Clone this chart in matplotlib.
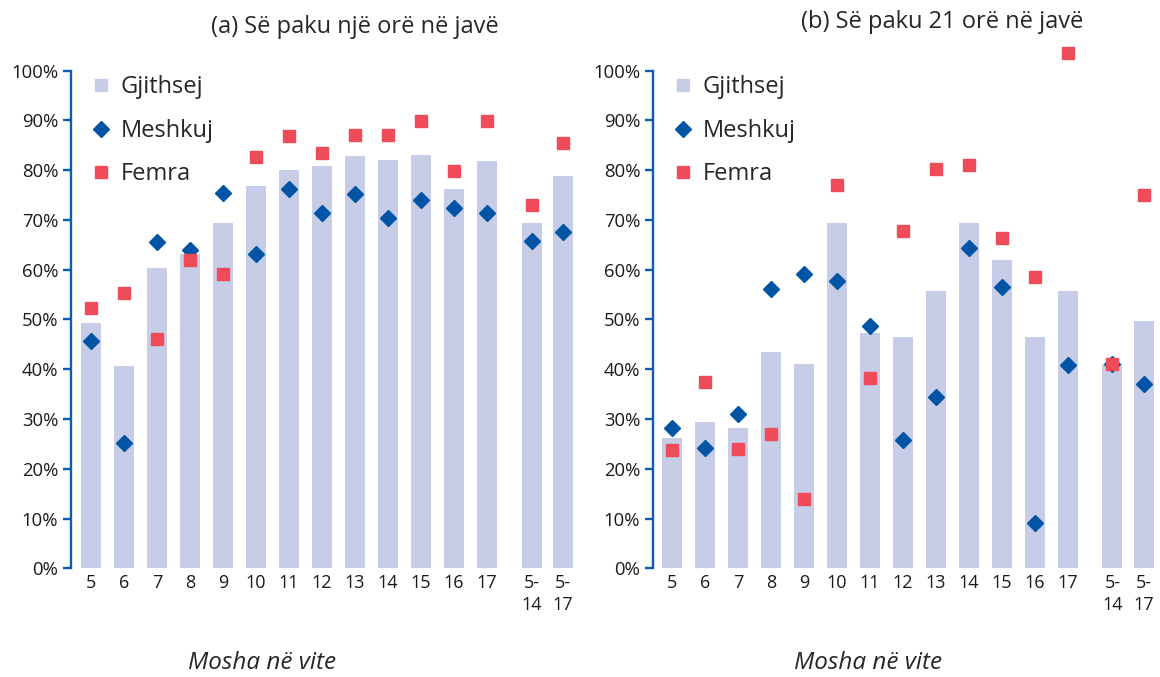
import matplotlib
matplotlib.use("Agg")
import matplotlib.pyplot as plt
from matplotlib.lines import Line2D
import numpy as np

plt.rcParams['font.family'] = ['Open Sans', 'DejaVu Sans']

categories = ["5", "6", "7", "8", "9", "10", "11", "12", "13", "14", "15", "16", "17", "5-\n14", "5-\n17"]
positions = [0, 1, 2, 3, 4, 5, 6, 7, 8, 9, 10, 11, 12, 13.35, 14.3]

# Panel (a): at least one hour per week
a_total = [49.3, 40.7, 60.3, 63.2, 69.4, 76.8, 80.0, 80.8, 82.9, 82.1, 83.1, 76.2, 81.8, 69.4, 78.8]
a_male = [45.6, 25.2, 65.5, 63.9, 75.3, 63.1, 76.2, 71.3, 75.2, 70.4, 73.9, 72.4, 71.3, 65.8, 67.6]
a_female = [52.3, 55.3, 46.0, 62.0, 59.1, 82.7, 86.9, 83.5, 87.1, 87.1, 89.9, 79.9, 89.9, 72.9, 85.5]

# Panel (b): at least 21 hours per week
b_total = [26.2, 29.4, 28.2, 43.5, 41.1, 69.3, 47.3, 46.5, 55.7, 69.3, 62.0, 46.5, 55.7, 41.1, 49.7]
b_male = [28.1, 24.1, 30.9, 56.1, 59.1, 57.8, 48.6, 25.7, 34.4, 64.3, 56.5, 9.0, 40.9, 41.0, 37.0]
b_female = [23.8, 37.4, 24.0, 27.0, 13.9, 77.0, 38.3, 67.8, 80.2, 81.0, 66.4, 58.5, 103.6, 41.1, 75.0]

yticks = [0, 10, 20, 30, 40, 50, 60, 70, 80, 90, 100]
ytick_labels = [f"{v}%" for v in yticks]

titles = ["(a) Së paku një orë në javë", "(b) Së paku 21 orë në javë"]
xlabel = "Mosha në vite"
legend_labels = ["Gjithsej", "Meshkuj", "Femra"]

BAR = "#C8CDE7"
MALE = "#0054A6"
FEMALE = "#EF4B59"
SPINE = "#0B5CB0"
TXT = "#1a1a1a"

W, H = 1160, 677
fig = plt.figure(figsize=(11.6, 6.77), dpi=100)

def px_axes(x0, x1, y_top, y_bot):
    return [x0 / W, (H - y_bot) / H, (x1 - x0) / W, (y_bot - y_top) / H]

axes_px = [(70.7, 582, 70.5, 568.3), (652.7, 1158, 70.5, 568.3)]
xlims = [(-0.615, 14.88), (-0.585, 14.73)]
data = [(a_total, a_male, a_female), (b_total, b_male, b_female)]
title_pos = [(354.5, 27), (942, 22)]
xlabel_pos = [(262, 663), (868, 663)]

for i in range(2):
    ax = fig.add_axes(px_axes(*axes_px[i]))
    tot, male, fem = data[i]
    ax.bar(positions, tot, width=0.606, color=BAR, zorder=1)
    ax.plot(positions, male, linestyle="none", marker="D", markersize=8.0,
            color=MALE, zorder=3, clip_on=False)
    ax.plot(positions, fem, linestyle="none", marker="s", markersize=8.6,
            color=FEMALE, zorder=4, clip_on=False)
    ax.set_ylim(0, 100)
    ax.set_xlim(*xlims[i])
    ax.set_yticks(yticks)
    ax.set_yticklabels(ytick_labels, fontsize=13.3, color=TXT)
    ax.set_xticks(positions)
    ax.set_xticklabels(categories, fontsize=13.0, color=TXT, linespacing=1.3, va="top")
    for s in ["top", "right", "bottom"]:
        ax.spines[s].set_visible(False)
    ax.spines["left"].set_color(SPINE)
    ax.spines["left"].set_linewidth(1.7)
    ax.tick_params(axis="y", direction="out", length=6, width=1.7, color=SPINE, pad=3)
    ax.tick_params(axis="x", length=0, pad=4)
    handles = [
        Line2D([], [], linestyle="none", marker="s", markersize=8.6, color=BAR),
        Line2D([], [], linestyle="none", marker="D", markersize=8.0, color=MALE),
        Line2D([], [], linestyle="none", marker="s", markersize=8.6, color=FEMALE),
    ]
    leg = ax.legend(handles, legend_labels, loc="upper left", bbox_to_anchor=(0.022, 1.009),
                    frameon=False, fontsize=17, labelspacing=0.82, handlelength=0.8,
                    handletextpad=0.45, borderaxespad=0)
    for t in leg.get_texts():
        t.set_color("#262626")
    fig.text(title_pos[i][0] / W, 1 - title_pos[i][1] / H, titles[i], ha="center",
             va="center", fontsize=17, color="#262626")
    fig.text(xlabel_pos[i][0] / W, 1 - xlabel_pos[i][1] / H, xlabel, ha="center",
             va="center", fontsize=17.5, style="italic", color="#262626")

fig.savefig("out.png", dpi=100)
